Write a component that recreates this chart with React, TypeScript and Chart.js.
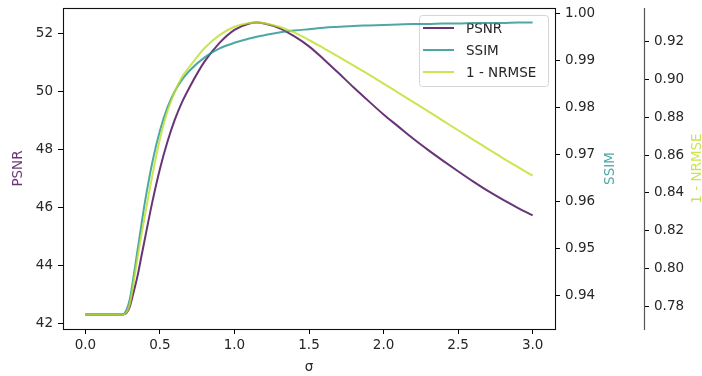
import React, { useEffect, useRef } from "react";
import { Chart, registerables } from "chart.js";

Chart.register(...registerables);

// Gaussian width σ and the three image-quality scores measured at each width
const sigma = [
  0, 0.05, 0.1, 0.15, 0.2, 0.25, 0.2625, 0.275, 0.2875, 0.3, 0.325, 0.35, 0.375,
  0.4, 0.45, 0.5, 0.55, 0.6, 0.65, 0.7, 0.8, 0.9, 1.0, 1.1, 1.15, 1.2, 1.3, 1.4,
  1.5, 1.6, 1.7, 1.8, 1.9, 2.0, 2.1, 2.2, 2.3, 2.4, 2.5, 2.6, 2.7, 2.8, 2.9, 3.0,
];

const psnr = [
  42.3, 42.3, 42.3, 42.3, 42.3, 42.3, 42.31, 42.35, 42.44, 42.6, 43.1, 43.63,
  44.28, 44.93, 46.2, 47.32, 48.25, 49.02, 49.64, 50.15, 51.03, 51.67, 52.12,
  52.34, 52.37, 52.34, 52.18, 51.9, 51.55, 51.1, 50.62, 50.13, 49.66, 49.2,
  48.78, 48.36, 47.97, 47.6, 47.24, 46.89, 46.56, 46.26, 45.98, 45.72,
];

const ssim = [
  0.9359, 0.9359, 0.9359, 0.9359, 0.9359, 0.9359, 0.9361, 0.9368, 0.9379,
  0.9394, 0.9443, 0.9496, 0.9548, 0.9599, 0.9684, 0.975, 0.9799, 0.9834,
  0.9859, 0.9878, 0.9906, 0.9925, 0.9937, 0.9946, 0.995, 0.9953, 0.9959,
  0.9963, 0.9966, 0.9969, 0.9971, 0.9973, 0.9974, 0.9975, 0.9976, 0.9977,
  0.9977, 0.9978, 0.9978, 0.9979, 0.9979, 0.9979, 0.998, 0.998,
];

const oneMinusNrmse = [
  0.7758, 0.7758, 0.7758, 0.7758, 0.7758, 0.7758, 0.776, 0.7768, 0.7786,
  0.7818, 0.7935, 0.8058, 0.8174, 0.8283, 0.8497, 0.8684, 0.883, 0.8935,
  0.9015, 0.9068, 0.9166, 0.9234, 0.9278, 0.9298, 0.93, 0.9297, 0.9278,
  0.9248, 0.9208, 0.9164, 0.9119, 0.9073, 0.9026, 0.8978, 0.8929, 0.888,
  0.8831, 0.8781, 0.8731, 0.8682, 0.8633, 0.8584, 0.8537, 0.8491,
];

const seriesNames = ["PSNR", "SSIM", "1 - NRMSE"];
const seriesColors = [
  "rgba(68, 1, 84, 0.8)",
  "rgba(33, 145, 140, 0.8)",
  "rgba(189, 223, 38, 0.8)",
];

const xTicks = [0, 0.5, 1.0, 1.5, 2.0, 2.5, 3.0];
const psnrTicks = [42, 44, 46, 48, 50, 52];
const ssimTicks = [0.94, 0.95, 0.96, 0.97, 0.98, 0.99, 1.0];
const nrmseTicks = [0.78, 0.8, 0.82, 0.84, 0.86, 0.88, 0.9, 0.92];

const FONT_FAMILY = "'DejaVu Sans', 'Liberation Sans', sans-serif";
const FONT_SIZE = 13.5;
const TEXT_COLOR = "#262626";

// Axis limits with a 5% margin on each side of the data
function padded(values: number[]) {
  const lo = Math.min(...values);
  const hi = Math.max(...values);
  const r = hi - lo;
  return { min: lo - 0.05 * r, max: hi + 0.05 * r };
}

const tickGrid = {
  display: true,
  drawOnChartArea: false,
  drawTicks: true,
  tickLength: 5,
  tickColor: "#000",
  tickWidth: 1,
};

const tickFont = { family: FONT_FAMILY, size: FONT_SIZE };

// Fixed axis box sizes; tick labels are allowed to overhang the plot edges
function fixedWidth(w: number) {
  return (s: any) => {
    s.width = w;
    s.paddingTop = 0;
    s.paddingBottom = 0;
  };
}

const frame = {
  id: "frame",
  afterDatasetsDraw(chart: any) {
    const { ctx, chartArea } = chart;
    const { left, top, right, bottom } = chartArea;
    ctx.save();
    ctx.strokeStyle = "#111";
    ctx.lineWidth = 1.1;
    ctx.strokeRect(
      Math.round(left) + 0.5,
      Math.round(top) + 0.5,
      Math.round(right) - Math.round(left),
      Math.round(bottom) - Math.round(top)
    );
    // spine of the outer right axis
    const outer = chart.scales.y3;
    const sx = Math.round(outer.left) + 0.5;
    ctx.strokeStyle = "#555";
    ctx.lineWidth = 1.2;
    ctx.beginPath();
    ctx.moveTo(sx, Math.round(top));
    ctx.lineTo(sx, Math.round(bottom) + 1);
    ctx.stroke();
    ctx.restore();
  },
  afterDraw(chart: any) {
    const { ctx, chartArea } = chart;
    const cy = (chartArea.top + chartArea.bottom) / 2;
    const titles = [
      { text: seriesNames[1], x: chart.scales.y2.right - 34, color: seriesColors[1] },
      { text: seriesNames[2], x: chart.scales.y3.right - 5, color: seriesColors[2] },
    ];
    ctx.save();
    ctx.font = `${FONT_SIZE}px ${FONT_FAMILY}`;
    ctx.textAlign = "center";
    ctx.textBaseline = "middle";
    for (const t of titles) {
      ctx.save();
      ctx.translate(t.x, cy);
      ctx.rotate(-Math.PI / 2);
      ctx.fillStyle = t.color;
      ctx.fillText(t.text, 0, 0);
      ctx.restore();
    }
    ctx.restore();
  },
};

// Legend drawn beneath the curves, in the upper right corner of the plot
const legendBox = {
  id: "legendBox",
  beforeDatasetsDraw(chart: any) {
    const { ctx, chartArea } = chart;
    const w = 129;
    const h = 71;
    const x = chartArea.right - 7 - w;
    const y = chartArea.top + 7;
    ctx.save();
    ctx.beginPath();
    ctx.roundRect(x + 0.5, y + 0.5, w, h, 3);
    ctx.fillStyle = "rgba(255,255,255,0.8)";
    ctx.fill();
    ctx.strokeStyle = "rgba(204,204,204,0.8)";
    ctx.lineWidth = 1;
    ctx.stroke();
    ctx.font = `${FONT_SIZE}px ${FONT_FAMILY}`;
    ctx.textBaseline = "middle";
    ctx.textAlign = "left";
    seriesNames.forEach((name, i) => {
      const ry = y + 13 + i * 22;
      ctx.strokeStyle = seriesColors[i];
      ctx.lineWidth = 2;
      ctx.beginPath();
      ctx.moveTo(x + 4, ry);
      ctx.lineTo(x + 35, ry);
      ctx.stroke();
      ctx.fillStyle = TEXT_COLOR;
      ctx.fillText(name, x + 47, ry + 1);
    });
    ctx.restore();
  },
};

export default function App() {
  const canvasRef = useRef<HTMLCanvasElement | null>(null);

  useEffect(() => {
    document.body.style.margin = "0";
    const canvas = canvasRef.current;
    if (!canvas) return;

    const series = [psnr, ssim, oneMinusNrmse];
    const axisIds = ["y", "y2", "y3"];
    const drawOrder = [3, 2, 1];

    const datasets = series.map((values, i) => ({
      label: seriesNames[i],
      data: sigma.map((s, k) => ({ x: s, y: values[k] })),
      borderColor: seriesColors[i],
      backgroundColor: seriesColors[i],
      borderWidth: 2,
      pointRadius: 0,
      fill: false,
      cubicInterpolationMode: "monotone" as const,
      yAxisID: axisIds[i],
      order: drawOrder[i],
    }));

    const xr = padded(sigma);
    const pr = padded(psnr);
    const sr = padded(ssim);
    const nr = padded(oneMinusNrmse);

    const chart = new Chart(canvas, {
      type: "line",
      data: { datasets },
      plugins: [legendBox, frame],
      options: {
        animation: false,
        responsive: false,
        devicePixelRatio: 1,
        layout: { padding: { top: 8, left: 0, right: 0, bottom: 0 } },
        plugins: {
          legend: { display: false },
          tooltip: { enabled: false },
        },
        scales: {
          x: {
            type: "linear",
            position: "bottom",
            min: xr.min,
            max: xr.max,
            afterBuildTicks: (s: any) => {
              s.ticks = xTicks.map((v) => ({ value: v }));
            },
            afterFit: (s: any) => {
              s.height = 47;
              s.paddingLeft = 0;
              s.paddingRight = 0;
            },
            ticks: {
              callback: (v: any) => Number(v).toFixed(1),
              font: tickFont,
              color: TEXT_COLOR,
              padding: 3,
              maxRotation: 0,
              autoSkip: false,
            },
            grid: tickGrid,
            border: { display: false },
            title: {
              display: true,
              text: "σ",
              font: tickFont,
              color: TEXT_COLOR,
              padding: { top: 0, bottom: 0 },
            },
          },
          y: {
            type: "linear",
            position: "left",
            min: pr.min,
            max: pr.max,
            afterBuildTicks: (s: any) => {
              s.ticks = psnrTicks.map((v) => ({ value: v }));
            },
            afterFit: fixedWidth(63),
            ticks: {
              callback: (v: any) => String(Math.round(Number(v))),
              font: tickFont,
              color: TEXT_COLOR,
              padding: 5,
            },
            grid: tickGrid,
            border: { display: false },
            title: {
              display: true,
              text: seriesNames[0],
              font: tickFont,
              color: seriesColors[0],
              padding: { top: 10, bottom: 0 },
            },
          },
          y2: {
            type: "linear",
            position: "right",
            min: sr.min,
            max: sr.max,
            afterBuildTicks: (s: any) => {
              s.ticks = ssimTicks.map((v) => ({ value: v }));
            },
            afterFit: fixedWidth(89),
            ticks: {
              callback: (v: any) => Number(v).toFixed(2),
              font: tickFont,
              color: TEXT_COLOR,
              padding: 5,
            },
            grid: tickGrid,
            border: { display: false },
          },
          y3: {
            type: "linear",
            position: "right",
            min: nr.min,
            max: nr.max,
            afterBuildTicks: (s: any) => {
              s.ticks = nrmseTicks.map((v) => ({ value: v }));
            },
            afterFit: fixedWidth(58),
            ticks: {
              callback: (v: any) => Number(v).toFixed(2),
              font: tickFont,
              color: TEXT_COLOR,
              padding: 5,
            },
            grid: tickGrid,
            border: { display: false },
          },
        },
      },
    });

    return () => chart.destroy();
  }, []);

  return (
    <div style={{ width: 702, height: 376 }}>
      <canvas
        ref={canvasRef}
        width={702}
        height={376}
        style={{ display: "block", width: 702, height: 376 }}
      />
    </div>
  );
}
